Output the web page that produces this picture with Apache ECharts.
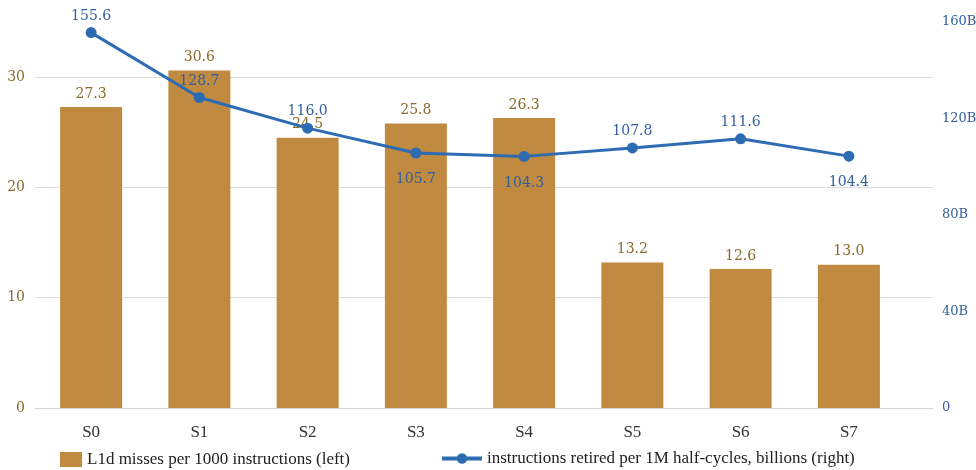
<!DOCTYPE html>
<html>
<head>
<meta charset="utf-8">
<script src="https://cdn.jsdelivr.net/npm/echarts@6/dist/echarts.min.js"></script>
<style>
  html, body { margin: 0; padding: 0; background: #ffffff; }
  #chart { width: 976px; height: 470px; }
</style>
</head>
<body>
<div id="chart"></div>
<script>
// Stages on the x axis
const categories = ['S0', 'S1', 'S2', 'S3', 'S4', 'S5', 'S6', 'S7'];
// L1d misses per 1000 instructions (left axis)
const l1dMisses = [27.3, 30.6, 24.5, 25.8, 26.3, 13.2, 12.6, 13.0];
// Instructions retired per 1M half-cycles, in billions (right axis)
const instrRetired = [155.6, 128.7, 116.0, 105.7, 104.3, 107.8, 111.6, 104.4];
// Right axis tick labels
const rightTicks = ['0', '40B', '80B', '120B', '160B'];
// Points whose value label sits under the marker
const labelsBelow = [3, 4, 7];

const barName = 'L1d misses per 1000 instructions (left)';
const lineName = 'instructions retired per 1M half-cycles, billions (right)';

const barColor = '#c08a40';
const lineColor = '#2d6cb3';
const leftText = '#8a6a2c';
const rightText = '#33609c';
const gridColor = '#dcdcdc';
const numFont = '"DejaVu Serif", Georgia, serif';
const textFont = '"Liberation Serif", serif';

const LEFT_MAX = 35, RIGHT_MAX = 160;

const chart = echarts.init(document.getElementById('chart'), null, { renderer: 'canvas' });

const legendText = { fontFamily: textFont, fontSize: 17, color: '#222' };

chart.setOption({
  animation: false,
  backgroundColor: '#ffffff',
  grid: [
    // plotting area for the bars and the line
    { left: 37, right: 73, top: 22, bottom: 62, outerBoundsMode: 'none' },
    // wider frame carrying the gridlines, baseline and both value scales
    { left: 35, right: 43, top: 22, bottom: 62, outerBoundsMode: 'none' }
  ],
  legend: [
    {
      top: 446,
      left: 55,
      itemWidth: 22,
      itemHeight: 15,
      textStyle: legendText,
      data: [{ name: barName, icon: 'rect' }]
    },
    {
      top: 445,
      left: 435,
      itemWidth: 40,
      itemHeight: 13,
      lineStyle: { width: 4 },
      textStyle: legendText,
      data: [lineName]
    }
  ],
  xAxis: [
    {
      type: 'category',
      gridIndex: 0,
      data: categories,
      axisTick: { show: false },
      axisLine: { show: false },
      axisLabel: { fontFamily: textFont, fontSize: 17, color: '#333', margin: 16 }
    },
    {
      type: 'value',
      gridIndex: 1,
      min: 0,
      max: 1,
      axisTick: { show: false },
      axisLabel: { show: false },
      splitLine: { show: false },
      axisLine: { show: true, onZero: false, lineStyle: { color: '#d4d4d4', width: 1 } }
    }
  ],
  yAxis: [
    {
      type: 'value',
      gridIndex: 1,
      min: 0,
      max: LEFT_MAX,
      interval: 10,
      axisLine: { show: false },
      axisTick: { show: false },
      splitLine: { show: true, showMinLine: false, showMaxLine: false, lineStyle: { color: gridColor, width: 1 } },
      axisLabel: {
        fontFamily: numFont, fontSize: 14, color: leftText, margin: 10,
        showMaxLabel: false
      }
    },
    {
      type: 'value',
      gridIndex: 1,
      min: 0,
      max: RIGHT_MAX,
      interval: 40,
      position: 'right',
      axisLine: { show: false },
      axisTick: { show: false },
      splitLine: { show: false },
      axisLabel: {
        fontFamily: numFont, fontSize: 13, color: rightText, margin: 9,
        formatter: (v) => rightTicks[Math.round(v / 40)]
      }
    },
    {
      type: 'value',
      gridIndex: 0,
      min: 0,
      max: LEFT_MAX,
      show: false
    },
    {
      type: 'value',
      gridIndex: 0,
      min: 0,
      max: RIGHT_MAX,
      position: 'right',
      show: false
    }
  ],
  series: [
    {
      name: barName,
      type: 'bar',
      xAxisIndex: 0,
      yAxisIndex: 2,
      barWidth: 62,
      itemStyle: { color: barColor },
      label: {
        show: true,
        position: 'top',
        distance: 6,
        fontFamily: numFont,
        fontSize: 14,
        color: leftText,
        formatter: (p) => p.value.toFixed(1)
      },
      data: l1dMisses
    },
    {
      name: lineName,
      type: 'line',
      xAxisIndex: 0,
      yAxisIndex: 3,
      symbol: 'circle',
      symbolSize: 11,
      z: 5,
      lineStyle: { color: lineColor, width: 3 },
      itemStyle: { color: lineColor },
      label: {
        show: true,
        fontFamily: numFont,
        fontSize: 14,
        color: rightText,
        formatter: (p) => p.value.toFixed(1)
      },
      data: instrRetired.map((v, i) => ({
        value: v,
        label: {
          position: labelsBelow.includes(i) ? 'bottom' : 'top',
          distance: labelsBelow.includes(i) ? 14 : 4
        }
      }))
    }
  ]
});
</script>
</body>
</html>
